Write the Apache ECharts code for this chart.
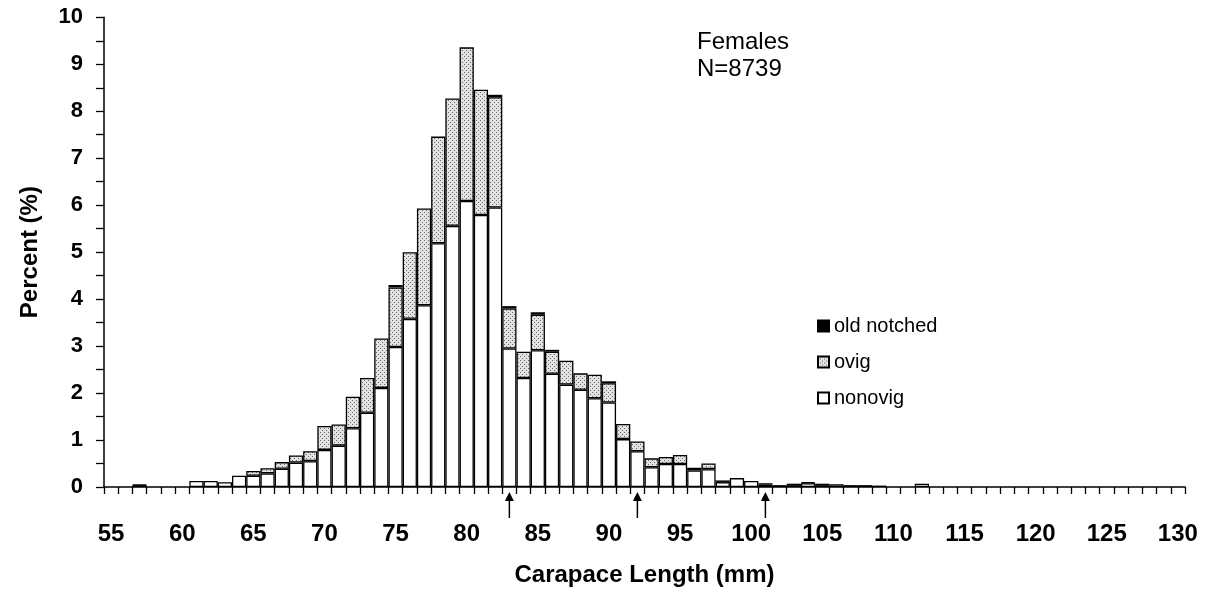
<!DOCTYPE html>
<html>
<head>
<meta charset="utf-8">
<script src="https://cdn.jsdelivr.net/npm/echarts@6/dist/echarts.min.js"></script>
<style>
html,body{margin:0;padding:0;background:#fff;}
#chart{width:1208px;height:592px;}
</style>
</head>
<body>
<div id="chart"></div>
<script>
// Carapace length classes (mm)
const categories = [];
for (let v = 55; v <= 130; v++) categories.push(String(v));

// Percent values, one per class 55..130
const nonovig = [
  0, 0, 0.04, 0, 0, 0, 0.13, 0.13, 0.10, 0.24,          // 55-64
  0.24, 0.29, 0.39, 0.52, 0.55, 0.79, 0.88, 1.25, 1.58, 2.11, // 65-74
  2.98, 3.58, 3.87, 5.19, 5.56, 6.09, 5.79, 5.95, 2.95, 2.32, // 75-84
  2.91, 2.41, 2.18, 2.07, 1.89, 1.80, 1.02, 0.76, 0.42, 0.49, // 85-94
  0.49, 0.35, 0.38, 0.10, 0.19, 0.13, 0.05, 0.04, 0.04, 0.08, // 95-104
  0.04, 0.06, 0.04, 0.04, 0.03, 0, 0, 0.07, 0, 0,            // 105-114
  0, 0, 0, 0, 0, 0, 0, 0, 0, 0,                              // 115-124
  0, 0, 0, 0, 0, 0                                           // 125-130
];
const ovig = [
  0, 0, 0, 0, 0, 0, 0, 0, 0, 0,
  0.10, 0.11, 0.14, 0.15, 0.21, 0.51, 0.45, 0.67, 0.74, 1.05,
  1.27, 1.42, 2.06, 2.27, 2.71, 3.27, 2.67, 2.35, 0.85, 0.56,
  0.76, 0.47, 0.51, 0.35, 0.50, 0.41, 0.32, 0.21, 0.19, 0.15,
  0.19, 0, 0.12, 0.01, 0, 0, 0, 0, 0, 0.02,
  0, 0, 0, 0, 0, 0, 0, 0, 0, 0,
  0, 0, 0, 0, 0, 0, 0, 0, 0, 0,
  0, 0, 0, 0, 0, 0
];
const oldNotched = [
  0, 0, 0.01, 0, 0, 0, 0, 0, 0, 0,
  0, 0, 0, 0, 0, 0, 0, 0, 0, 0,
  0.05, 0, 0, 0, 0, 0, 0, 0.05, 0.05, 0,
  0.05, 0.04, 0, 0, 0, 0.04, 0, 0, 0, 0,
  0, 0.06, 0, 0.03, 0, 0, 0.03, 0, 0.03, 0,
  0.03, 0, 0, 0, 0, 0, 0, 0, 0, 0,
  0, 0, 0, 0, 0, 0, 0, 0, 0, 0,
  0, 0, 0, 0, 0, 0
];
// Arrow marks under the axis (mm)
const arrowAt = [83, 92, 101];
const yTicks = [0, 10, 1];

// dotted fill pattern
const pc = document.createElement('canvas');
pc.width = 4; pc.height = 4;
const px = pc.getContext('2d');
px.fillStyle = '#e2e2e2'; px.fillRect(0, 0, 4, 4);
px.fillStyle = '#6a6a6a';
px.fillRect(0, 0, 1, 1); px.fillRect(2, 2, 1, 1);
const dotted = { image: pc, repeat: 'repeat' };

const noZero = a => a.map(v => (v === 0 ? '-' : v));
const FONT = "'Liberation Sans', Arial, sans-serif";
const border = { borderColor: '#000', borderWidth: 1.3 };

const chart = echarts.init(document.getElementById('chart'), null, { renderer: 'canvas' });
chart.setOption({
  animation: false,
  backgroundColor: '#fff',
  textStyle: { fontFamily: FONT, color: '#000' },
  title: {
    text: 'Females\nN=8739',
    left: 692, top: 24,
    textStyle: { fontFamily: FONT, fontSize: 24, fontWeight: 'normal', color: '#000', lineHeight: 27 }
  },
  legend: {
    data: ['old notched', 'ovig', 'nonovig'],
    orient: 'vertical',
    left: 812, top: 311,
    itemWidth: 11, itemHeight: 11, itemGap: 16,
    icon: 'rect',
    textStyle: { fontFamily: FONT, fontSize: 20, color: '#000', padding: [0, 0, 0, 0] }
  },
  grid: { left: 104, right: 23, top: 17.3, bottom: 100, containLabel: false },
  xAxis: {
    type: 'category',
    data: categories,
    boundaryGap: true,
    name: 'Carapace Length (mm)',
    nameLocation: 'middle',
    nameGap: 76,
    nameTextStyle: { fontFamily: FONT, fontSize: 24, fontWeight: 'bold', color: '#000' },
    axisLine: { lineStyle: { color: '#000', width: 1.5 } },
    axisTick: { show: true, interval: 0, alignWithLabel: false, length: 7, lineStyle: { color: '#000', width: 1.3 } },
    axisLabel: { interval: 4, margin: 35, fontFamily: FONT, fontSize: 24, fontWeight: 'bold', color: '#000' },
    splitLine: { show: false }
  },
  yAxis: {
    type: 'value',
    min: yTicks[0], max: yTicks[1], interval: yTicks[2],
    name: 'Percent (%)',
    nameLocation: 'middle',
    nameGap: 62,
    nameTextStyle: { fontFamily: FONT, fontSize: 24, fontWeight: 'bold', color: '#000' },
    axisLine: { show: true, lineStyle: { color: '#000', width: 1.5 } },
    axisTick: { show: true, length: 8, lineStyle: { color: '#000', width: 1.3 } },
    minorTick: { show: true, splitNumber: 2, length: 8, lineStyle: { color: '#000', width: 1.3 } },
    axisLabel: { margin: 21, fontFamily: FONT, fontSize: 22, fontWeight: 'bold', color: '#000' },
    splitLine: { show: false }
  },
  series: [
    {
      name: 'nonovig', type: 'bar', stack: 'p', barCategoryGap: '0%',
      itemStyle: Object.assign({ color: '#fff' }, border),
      data: noZero(nonovig)
    },
    {
      name: 'ovig', type: 'bar', stack: 'p',
      itemStyle: Object.assign({ color: dotted }, border),
      data: noZero(ovig)
    },
    {
      name: 'old notched', type: 'bar', stack: 'p',
      itemStyle: Object.assign({ color: '#000' }, border),
      data: noZero(oldNotched)
    },
    {
      name: 'arrows', type: 'custom', clip: false, silent: true,
      data: arrowAt.map(v => [categories.indexOf(String(v)), 0]),
      renderItem: function (params, api) {
        const p = api.coord([api.value(0), 0]);
        const x = p[0], y = p[1];
        return {
          type: 'group',
          children: [
            { type: 'line', shape: { x1: x, y1: y + 12, x2: x, y2: y + 31 }, style: { stroke: '#000', lineWidth: 1.5 } },
            { type: 'polygon', shape: { points: [[x, y + 5], [x - 4.5, y + 14], [x + 4.5, y + 14]] }, style: { fill: '#000' } }
          ]
        };
      }
    }
  ]
});
</script>
</body>
</html>
